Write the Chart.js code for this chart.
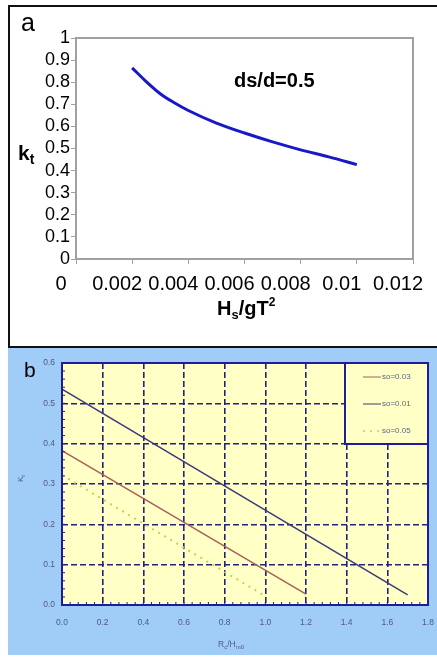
<!DOCTYPE html>
<html>
<head>
<meta charset="utf-8">
<script src="https://cdn.jsdelivr.net/npm/chart.js@4.4.0/dist/chart.umd.min.js"></script>
<style>
  html, body { margin:0; padding:0; background:#fff; }
  body { width:437px; height:659px; position:relative; overflow:hidden; font-family:"Liberation Sans", Arial, sans-serif; }
  #frameA { position:absolute; left:8px; top:5px; width:440px; height:339px; border-left:2px solid #111; border-top:2px solid #111; border-bottom:2px solid #111; }
  #bgB { position:absolute; left:8px; top:348px; width:429px; height:307px; background:#a0ccf8; }
  canvas { position:absolute; left:0; }
  #cA { top:0; }
  #cB { top:346px; }
  .lbl { position:absolute; white-space:nowrap; line-height:1; }
</style>
</head>
<body>
<div id="frameA"></div>
<div id="bgB"></div>
<canvas id="cA" width="437" height="346" style="width:437px;height:346px"></canvas>
<canvas id="cB" width="437" height="313" style="width:437px;height:313px"></canvas>

<div class="lbl" style="left:21px;top:10px;font-size:25px;">a</div>
<div class="lbl" style="left:18px;top:142px;font-size:21px;font-weight:bold;">k<sub style="font-size:14px;vertical-align:-4px;">t</sub></div>
<div class="lbl" style="left:234px;top:70px;font-size:20px;font-weight:bold;">ds/d=0.5</div>
<div class="lbl" style="left:217px;top:296px;font-size:20px;font-weight:bold;">H<sub style="font-size:13px;vertical-align:-4px;">s</sub>/gT<sup style="font-size:12px;vertical-align:9px;">2</sup></div>

<div class="lbl" style="left:24px;top:359px;font-size:21px;">b</div>
<div class="lbl" style="left:17px;top:482px;font-size:8px;color:#505a80;transform:rotate(-90deg);transform-origin:left top;">K<sub style="font-size:6px;vertical-align:-2px;">t</sub></div>
<div class="lbl" style="left:218px;top:640px;font-size:8.5px;color:#505a80;">R<sub style="font-size:6px;vertical-align:-2px;">c</sub>/H<sub style="font-size:6px;vertical-align:-2px;">m0</sub></div>

<script>
// ---- Chart a data ----
const hsgT2 = [0.002, 0.0025, 0.003, 0.0035, 0.004, 0.005, 0.006, 0.007, 0.008, 0.009, 0.010];
const ktA   = [0.865, 0.803, 0.748, 0.707, 0.672, 0.615, 0.570, 0.530, 0.494, 0.462, 0.427];
const xTicksA = [0, 0.002, 0.004, 0.006, 0.008, 0.01, 0.012];
const yTicksA = [0, 0.1, 0.2, 0.3, 0.4, 0.5, 0.6, 0.7, 0.8, 0.9, 1];

// ---- Chart b data ----
const seriesNames = ["so=0.03", "so=0.01", "so=0.05"];
const rcX003 = [0, 1.2],  kt003 = [0.383, 0.027];
const rcX001 = [0, 1.70], kt001 = [0.535, 0.025];
const rcX005 = [0, 1.0],  kt005 = [0.322, 0.022];
const xTicksB = [0, 0.2, 0.4, 0.6, 0.8, 1.0, 1.2, 1.4, 1.6, 1.8];
const yTicksB = [0, 0.1, 0.2, 0.3, 0.4, 0.5, 0.6];

const pts = (xs, ys) => xs.map((x, i) => ({x, y: ys[i]}));
const fixTicks = arr => (scale) => { scale.ticks = arr.map(v => ({value: v})); };
const fitX = h => s => { s.height = h; s.paddingLeft = 0; s.paddingRight = 0; s.paddingTop = 0; s.paddingBottom = 0; };
const fitY = w => s => { s.width = w; s.paddingLeft = 0; s.paddingRight = 0; s.paddingTop = 0; s.paddingBottom = 0; };

// ---------- Chart a ----------
const borderA = {
  id: 'borderA',
  afterDraw(chart) {
    const {ctx, chartArea: a} = chart;
    ctx.save();
    ctx.strokeStyle = '#a0a0a0';
    ctx.lineWidth = 2;
    ctx.strokeRect(a.left, a.top, a.right - a.left, a.bottom - a.top);
    ctx.restore();
  }
};

new Chart(document.getElementById('cA'), {
  type: 'line',
  data: {
    datasets: [{
      data: pts(hsgT2, ktA),
      borderColor: '#1818c8',
      borderWidth: 3,
      pointRadius: 0,
      cubicInterpolationMode: 'monotone',
      fill: false
    }]
  },
  options: {
    responsive: false,
    animation: false,
    devicePixelRatio: 1,
    layout: { padding: { top: 38, right: 24, left: 0, bottom: 0 } },
    plugins: { legend: { display: false }, tooltip: { enabled: false } },
    scales: {
      x: {
        type: 'linear', min: 0, max: 0.012,
        afterBuildTicks: fixTicks(xTicksA),
        afterFit: fitX(87),
        ticks: {
          color: '#000', font: { family: '"Liberation Sans", Arial', size: 20 },
          padding: 8, maxRotation: 0, minRotation: 0, autoSkip: false, labelOffset: -15,
          callback: v => String(+v.toFixed(3))
        },
        grid: { drawOnChartArea: false, drawTicks: true, tickLength: 5, color: '#a0a0a0', lineWidth: 1 },
        border: { display: true, color: '#a0a0a0', width: 2 }
      },
      y: {
        type: 'linear', min: 0, max: 1,
        afterBuildTicks: fixTicks(yTicksA),
        afterFit: fitY(76),
        ticks: {
          color: '#000', font: { family: '"Liberation Sans", Arial', size: 18 },
          padding: 1, autoSkip: false,
          callback: v => String(+v.toFixed(1))
        },
        grid: { drawOnChartArea: false, drawTicks: true, tickLength: 5, color: '#a0a0a0', lineWidth: 1 },
        border: { display: true, color: '#a0a0a0', width: 2 }
      }
    }
  },
  plugins: [borderA]
});

// ---------- Chart b ----------
const decorB = {
  id: 'decorB',
  beforeDraw(chart) {
    const {ctx, chartArea: a} = chart;
    ctx.save();
    ctx.fillStyle = '#ffffc6';
    ctx.fillRect(a.left, a.top, a.right - a.left, a.bottom - a.top);
    ctx.restore();
  },
  afterDraw(chart) {
    const {ctx, chartArea: a, scales} = chart;
    ctx.save();
    // minor ticks
    ctx.strokeStyle = '#1c1c9c';
    ctx.lineWidth = 1;
    ctx.beginPath();
    for (let i = 0; i <= 45; i++) {
      const px = scales.x.getPixelForValue(i * 0.04);
      ctx.moveTo(px, a.bottom); ctx.lineTo(px, a.bottom - 3);
    }
    for (let i = 0; i <= 30; i++) {
      const py = scales.y.getPixelForValue(i * 0.02);
      ctx.moveTo(a.left, py); ctx.lineTo(a.left + 3, py);
    }
    ctx.stroke();
    // border
    ctx.strokeStyle = '#1c1c9c';
    ctx.lineWidth = 2;
    ctx.strokeRect(a.left, a.top, a.right - a.left, a.bottom - a.top);
    // legend box
    const lw = 83, lh = 81;
    const lx = a.right - lw, ly = a.top;
    ctx.fillStyle = '#ffffc6';
    ctx.fillRect(lx, ly, lw, lh);
    ctx.strokeRect(lx, ly, lw, lh);
    const ds = chart.data.datasets;
    const rows = [14, 41, 68];
    ds.forEach((d, i) => {
      const y = ly + rows[i];
      ctx.save();
      ctx.strokeStyle = d.borderColor;
      ctx.lineWidth = d.legendWidth || 1;
      ctx.setLineDash(d.borderDash || []);
      ctx.beginPath();
      ctx.moveTo(lx + 18, y); ctx.lineTo(lx + 36, y);
      ctx.stroke();
      ctx.restore();
      ctx.fillStyle = '#5a6485';
      ctx.font = '8px "Liberation Sans", Arial';
      ctx.textBaseline = 'middle';
      ctx.textAlign = 'left';
      ctx.fillText(d.label, lx + 37, y);
    });
    ctx.restore();
  }
};

new Chart(document.getElementById('cB'), {
  type: 'line',
  data: {
    datasets: [
      { label: seriesNames[0], data: pts(rcX003, kt003), borderColor: '#a8605a', borderWidth: 1.5, legendWidth: 1, pointRadius: 0, fill: false },
      { label: seriesNames[1], data: pts(rcX001, kt001), borderColor: '#3a3a78', borderWidth: 1.5, legendWidth: 1, pointRadius: 0, fill: false },
      { label: seriesNames[2], data: pts(rcX005, kt005), borderColor: '#bcd45a', borderWidth: 2, legendWidth: 1.5, borderDash: [2, 5], pointRadius: 0, fill: false }
    ]
  },
  options: {
    responsive: false,
    animation: false,
    devicePixelRatio: 1,
    layout: { padding: { top: 17, right: 9, left: 0, bottom: 0 } },
    plugins: { legend: { display: false }, tooltip: { enabled: false } },
    scales: {
      x: {
        type: 'linear', min: 0, max: 1.8,
        afterBuildTicks: fixTicks(xTicksB),
        afterFit: fitX(54),
        ticks: {
          color: '#505a80', font: { family: '"Liberation Sans", Arial', size: 8.5 },
          padding: 13, maxRotation: 0, minRotation: 0, autoSkip: false,
          callback: v => v.toFixed(1)
        },
        grid: { drawTicks: false, color: '#22227e', lineWidth: 1.6 },
        border: { display: false, dash: [6, 3] }
      },
      y: {
        type: 'linear', min: 0, max: 0.6,
        afterBuildTicks: fixTicks(yTicksB),
        afterFit: fitY(62),
        ticks: {
          color: '#505a80', font: { family: '"Liberation Sans", Arial', size: 8.5 },
          padding: 7, autoSkip: false,
          callback: v => v.toFixed(1)
        },
        grid: { drawTicks: false, color: '#22227e', lineWidth: 1.6 },
        border: { display: false, dash: [6, 3] }
      }
    }
  },
  plugins: [decorB]
});
</script>
</body>
</html>
